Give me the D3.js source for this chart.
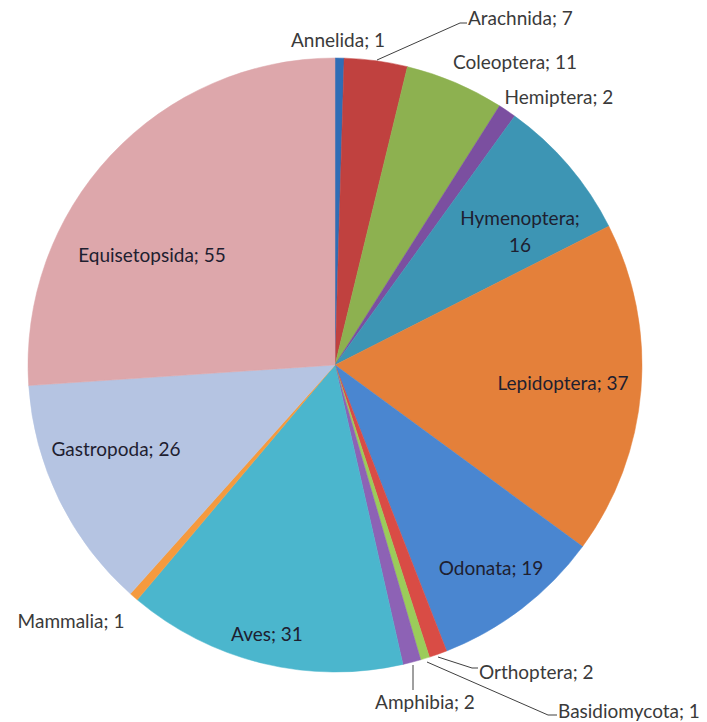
<!DOCTYPE html>
<html>
	<head>
		<meta charset="utf-8">
		<title>Pie chart</title>
		<script src="https://d3js.org/d3.v7.min.js"></script>
		<style type="text/css">
			body { margin: 0; background: #fff; }
			text { font-family: Lato, "Open Sans", sans-serif; }
		</style>
	</head>
	<body>
		<script type="text/javascript">

			var svgWidth = 707;
			var svgHeight = 722;

			// datos
			var categories = ['Annelida', 'Arachnida', 'Coleoptera', 'Hemiptera', 'Hymenoptera',
				'Lepidoptera', 'Odonata', 'Orthoptera', 'Basidiomycota', 'Amphibia',
				'Aves', 'Mammalia', 'Gastropoda', 'Equisetopsida'];
			var counts = [1, 7, 11, 2, 16, 37, 19, 2, 1, 2, 31, 1, 26, 55];

			var colors = ['#2f6db5', '#c0413f', '#8db150', '#7b4fa0', '#3d95b4',
				'#e4803a', '#4a86d0', '#d94c45', '#9bcc5a', '#8d62b5',
				'#4bb6cd', '#f59a3e', '#b5c4e2', '#dda7ab'];

			// posicion de las etiquetas (layout)
			var labelPos = {
				'Annelida':      { x: 338, y: 40 },
				'Arachnida':     { x: 468, y: 18, anchor: 'start', line: [[377, 60], [460, 23], [467, 23]] },
				'Coleoptera':    { x: 515, y: 62 },
				'Hemiptera':     { x: 559, y: 97 },
				'Hymenoptera':   { x: 520, y: 218, wrap: true },
				'Lepidoptera':   { x: 563, y: 383, inside: true },
				'Odonata':       { x: 491, y: 568, inside: true },
				'Orthoptera':    { x: 479, y: 672, anchor: 'start', line: [[438, 657], [472, 668], [478, 668]] },
				'Basidiomycota': { x: 558, y: 711, anchor: 'start', line: [[427, 662], [548, 715], [557, 715]] },
				'Amphibia':      { x: 425, y: 702, line: [[413, 665], [413, 690]] },
				'Aves':          { x: 267, y: 634, inside: true },
				'Mammalia':      { x: 71, y: 621 },
				'Gastropoda':    { x: 116, y: 449, inside: true },
				'Equisetopsida': { x: 152, y: 255, inside: true }
			};

			var cx = 335, cy = 365, radius = 307;

			var svg = d3.select('body')
				.append('svg')
				.attr('width', svgWidth)
				.attr('height', svgHeight);

			var pie = d3.pie().sort(null).value(function(d) { return d; });
			var arc = d3.arc().innerRadius(0).outerRadius(radius);

			var g = svg.append('g')
				.attr('transform', 'translate(' + cx + ',' + cy + ')');

			g.selectAll('path')
				.data(pie(counts))
				.enter()
				.append('path')
				.attr('d', arc)
				.attr('fill', function(d, i) { return colors[i]; })
				.attr('stroke', function(d, i) { return colors[i]; })
				.attr('stroke-width', 0.5);

			// lineas guia
			var line = d3.line();
			categories.forEach(function(c) {
				var p = labelPos[c];
				if (p.line) {
					svg.append('path')
						.attr('d', line(p.line))
						.attr('fill', 'none')
						.attr('stroke', '#404040')
						.attr('stroke-width', 1);
				}
			});

			// etiquetas
			categories.forEach(function(c, i) {
				var p = labelPos[c];
				var t = svg.append('text')
					.attr('x', p.x)
					.attr('y', p.y)
					.attr('dy', '0.35em')
					.attr('text-anchor', p.anchor || 'middle')
					.attr('font-size', '19px')
					.attr('fill', (p.inside || p.wrap) ? '#1e2030' : '#3a3a3a');
				if (p.wrap) {
					t.append('tspan').attr('x', p.x).text(c + ';');
					t.append('tspan').attr('x', p.x).attr('dy', '27px').text(counts[i]);
				} else {
					t.text(c + '; ' + counts[i]);
				}
			});

		</script>
	</body>
</html>
